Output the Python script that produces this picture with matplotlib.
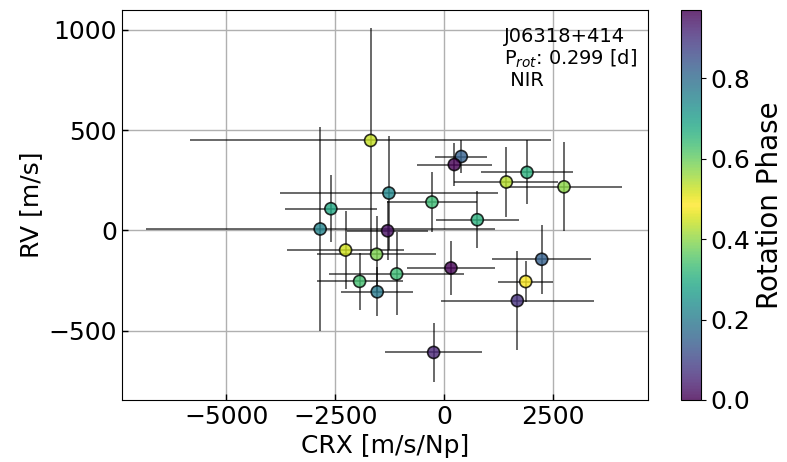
import numpy as np
import matplotlib
matplotlib.use("Agg")
import matplotlib.pyplot as plt
from matplotlib.colors import ListedColormap

# Datos
crx = [-1686, -1265, -2599, -2845, -1295, -2261, -1548, -1939, -1534, -1088, 398,
       237, 1909, 1433, 2760, -276, 766, 161, 2247, 1879, 1686, -237]
crx_err = [4140, 2505, 1060, 4009, 927, 1343, 1366, 989, 828, 1550, 601,
           859, 1066, 1196, 1334, 1042, 958, 1008, 1139, 626, 1760, 1120]
rv = [448, 186, 108, 7, -2, -98, -119, -254, -306, -217, 368,
      328, 289, 241, 217, 141, 53, -187, -144, -255, -350, -608]
rv_err = [562, 282, 168, 506, 146, 194, 189, 143, 122, 207, 83,
          109, 160, 174, 222, 149, 141, 134, 171, 103, 245, 148]
phase = [0.44, 0.74, 0.68, 0.22, 0.95, 0.45, 0.58, 0.63, 0.20, 0.64, 0.82,
         0.97, 0.66, 0.54, 0.57, 0.33, 0.66, 0.0, 0.82, 0.48, 0.07, 0.92]

star = "J06318+414"
prot = 0.299
band = "NIR"

# colormap ciclico: viridis ida y vuelta
vir = plt.get_cmap("viridis")
cmap = ListedColormap(np.vstack((vir(np.linspace(0, 1, 128)),
                                 vir(np.linspace(1, 0, 128)))))

fig = plt.figure(figsize=(7.87, 4.62), dpi=100)
ax = fig.add_axes([0.155, 0.1342, 0.6684, 0.8442])
cax = fig.add_axes([0.8653, 0.1342, 0.0254, 0.8442])

ax.errorbar(crx, rv, xerr=crx_err, yerr=rv_err, fmt="none",
            ecolor="black", elinewidth=1.1, alpha=0.75, zorder=2)
sc = ax.scatter(crx, rv, c=phase, cmap=cmap, vmin=min(phase), vmax=max(phase),
                s=75, edgecolors="black", linewidths=1.2, alpha=0.8, zorder=3)

ax.grid(True, color="#b0b0b0", linewidth=1.0)
ax.set_axisbelow(True)
ax.set_xlim(-7400, 4690)
ax.set_ylim(-845, 1098)
ax.set_xticks([-5000, -2500, 0, 2500])
ax.set_yticks([-500, 0, 500, 1000])
ax.tick_params(direction="in", labelsize=18, length=4, width=1)
ax.set_xlabel("CRX [m/s/Np]", fontsize=18)
ax.set_ylabel("RV [m/s]", fontsize=18)

ax.text(0.726, 0.957, f"{star}\nP$_{{rot}}$: {prot} [d]\n {band}",
        transform=ax.transAxes, ha="left", va="top", fontsize=14,
        linespacing=1.1)

cb = fig.colorbar(sc, cax=cax)
cb.set_label("Rotation Phase", fontsize=20)
cb.ax.tick_params(labelsize=18)

fig.savefig("out.png", dpi=100)
